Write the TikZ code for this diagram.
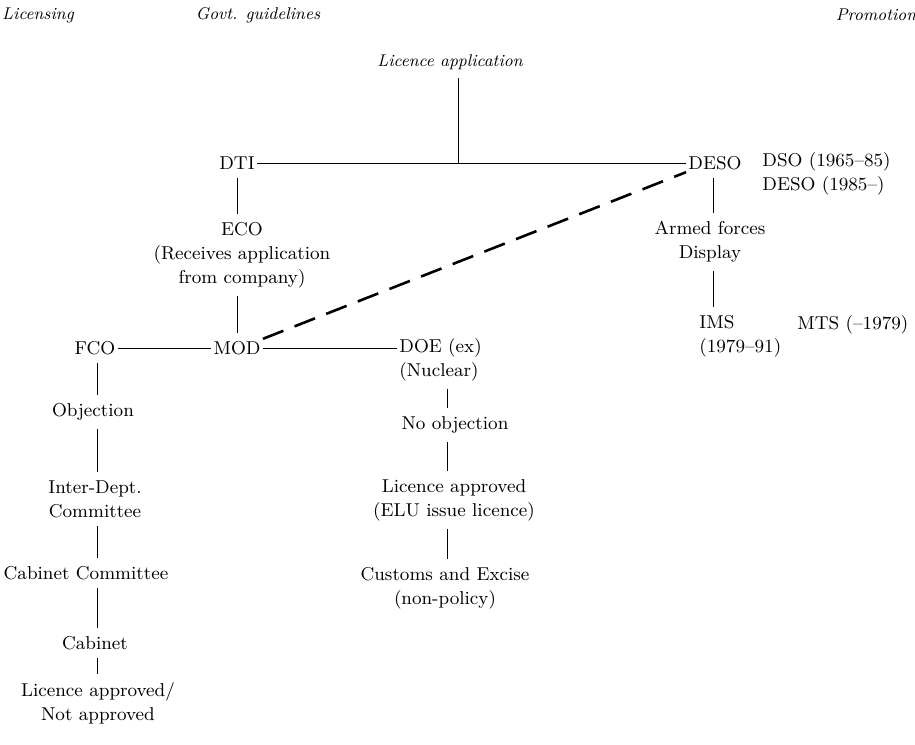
\documentclass[tikz,border=0pt]{standalone}
\usepackage{tikz}

\begin{document}
\begin{tikzpicture}[x=0.5pt,y=-0.5pt,
  every node/.style={inner sep=1pt, font=\fontsize{9.3}{12}\selectfont, align=center},
  head/.style={font=\fontsize{8.5}{10}\selectfont\itshape},
  link/.style={line width=0.5pt},
  vlink/.style={line width=0.5pt, shorten <=3pt, shorten >=3pt},
  promo/.style={line width=1.3pt, dash pattern=on 11pt off 6pt}]
  \useasboundingbox (0,0) rectangle (915,744);

  \coordinate (lcol) at (97,0);
  \coordinate (ecol) at (237,0);
  \coordinate (dcol) at (447,0);
  \coordinate (pcol) at (713,0);

  \node[head] (lic) at (38,15) {Licensing};
  \node[head] (gov) at (258,15) {Govt. guidelines};
  \node[head] (pro) at (876,15) {Promotion};
  \node[head] (app) at (450,62) {Licence application};

  \node (dti) at (237,163) {DTI};
  \node (deso) at (715,163) {DESO};
  \coordinate (join) at (458,163);
  \node[anchor=west, align=left] (dso) at (760,174) {DSO (1965--85)\\DESO (1985--)};

  \node (eco) at (242,255) {ECO\\(Receives application\\from company)};
  \node (arm) at (710,242) {Armed forces\\Display};
  \node[anchor=west, align=left] (ims) at (697,336) {IMS\\(1979--91)};
  \node[anchor=west] (mts) at (795,325) {MTS (--1979)};

  \node (fco) at (95,348) {FCO};
  \node (mod) at (237,348) {MOD};
  \node[anchor=west] (doe) at (397,348) {DOE (ex)};
  \node[anchor=north west] (nuc) at (doe.south west) {(Nuclear)};

  \node (obj) at (93,412) {Objection};
  \node (idc) at (95,499) {Inter-Dept.\\Committee};
  \node (cabc) at (86,573) {Cabinet Committee};
  \node (cab) at (95,643) {Cabinet};
  \node (fin) at (98,703) {Licence approved/\\Not approved};

  \node (noobj) at (455,425) {No objection};
  \node (elu) at (454,500) {Licence approved\\(ELU issue licence)};
  \node (cus) at (445,588) {Customs and Excise\\(non-policy)};

  \draw[link] (dti) -- (deso);
  \draw[vlink, shorten >=0pt] (app.south -| join) -- (join);
  \draw[vlink] (dti.south -| ecol) -- (eco.north -| ecol);
  \draw[vlink] (eco.south -| ecol) -- (mod.north -| ecol);
  \draw[vlink] (deso.south -| pcol) -- (arm.north -| pcol);
  \draw[vlink] (arm.south -| pcol) -- (ims.north -| pcol);
  \draw[link] (fco) -- (mod);
  \draw[link] (mod) -- (doe);
  \draw[promo] (mod.north east) -- (deso.south west);

  \draw[vlink] (fco.south -| lcol) -- (obj.north -| lcol);
  \draw[vlink] (obj.south -| lcol) -- (idc.north -| lcol);
  \draw[vlink] (idc.south -| lcol) -- (cabc.north -| lcol);
  \draw[vlink] (cabc.south -| lcol) -- (cab.north -| lcol);
  \draw[vlink] (cab.south -| lcol) -- (fin.north -| lcol);

  \draw[vlink] (nuc.south -| dcol) -- (noobj.north -| dcol);
  \draw[vlink] (noobj.south -| dcol) -- (elu.north -| dcol);
  \draw[vlink] (elu.south -| dcol) -- (cus.north -| dcol);
\end{tikzpicture}
\end{document}
